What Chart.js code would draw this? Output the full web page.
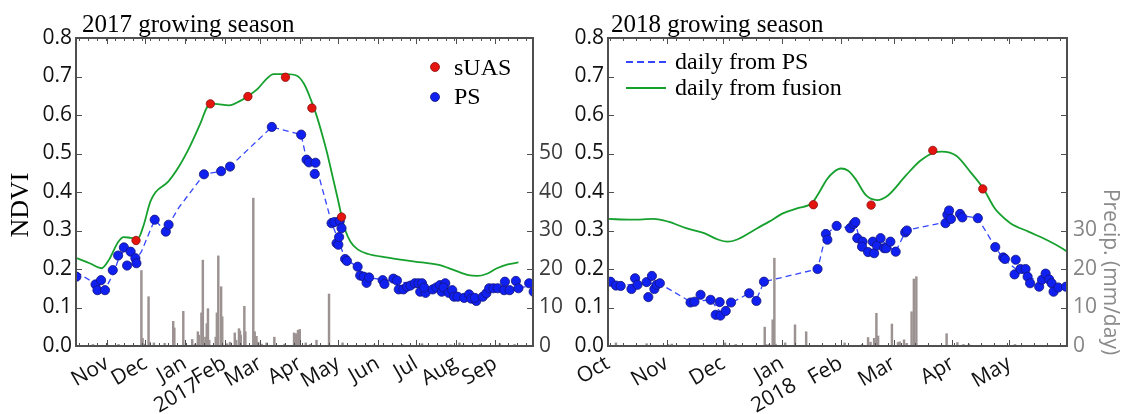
<!DOCTYPE html>
<html>
<head>
<meta charset="utf-8">
<script src="https://cdn.jsdelivr.net/npm/chart.js@4.4.1/dist/chart.umd.min.js"></script>
<style>
html, body { margin: 0; padding: 0; background: #fff; }
#wrap { position: relative; width: 1124px; height: 414px; }
#c2017 { position: absolute; left: 0; top: 0; }
#c2018 { position: absolute; left: 562px; top: 0; }
</style>
</head>
<body>
<div id="wrap">
  <canvas id="c2017" width="562" height="414"></canvas>
  <canvas id="c2018" width="562" height="414"></canvas>
</div>
<script>
// ---- 2016/17 season (x = days since 1 Oct 2016) ----
const fusion2017 = [[6.7,0.229],[17.4,0.215],[26.6,0.202],[32.7,0.225],[39.7,0.27],[43.9,0.283],[49.5,0.281],[55.1,0.279],[59.3,0.31],[64.9,0.375],[69.1,0.40],[78.9,0.427],[87.3,0.466],[95.7,0.517],[104.1,0.578],[109.7,0.622],[115.3,0.629],[126.5,0.625],[134.9,0.636],[141.3,0.649],[148.9,0.668],[155.9,0.694],[161.4,0.706],[171.2,0.706],[179.6,0.702],[185.2,0.681],[190.8,0.638],[195,0.599],[199.2,0.552],[203.4,0.5],[207.6,0.44],[211.8,0.38],[214.6,0.338],[217.4,0.302],[221.6,0.271],[227.2,0.251],[235.6,0.239],[249.6,0.23],[263.6,0.223],[277.6,0.217],[291.6,0.21],[302.7,0.197],[313.9,0.184],[320.9,0.182],[327.9,0.187],[336.3,0.202],[344.7,0.212],[353.1,0.217]];
const psDaily2017 = [[6.7,0.193],[18.8,0.168],[25.7,0.148],[29.9,0.15],[35.5,0.185],[41.1,0.235],[45.3,0.25],[49.5,0.245],[53.7,0.225],[57.9,0.245],[68.3,0.328],[77,0.297],[79.2,0.315],[87.3,0.36],[106.9,0.446],[120.3,0.454],[127.3,0.466],[160,0.569],[183,0.549],[187.2,0.484],[194.2,0.47],[196.4,0.447],[206.8,0.32],[212.7,0.27],[217.4,0.226],[227,0.206],[232,0.18],[247,0.172],[258,0.168],[283,0.153],[302.7,0.14],[320,0.125],[330.7,0.145],[344.7,0.15],[364.5,0.155]];
const ps2017 = [[7,0.18],[22,0.16],[23.5,0.145],[26.3,0.171],[29.4,0.145],[35.5,0.197],[39.7,0.235],[44.2,0.256],[46.7,0.209],[49.5,0.245],[53.2,0.228],[54,0.215],[68.3,0.328],[77,0.297],[79.2,0.315],[106.9,0.446],[120.3,0.454],[127.3,0.466],[160,0.569],[183,0.549],[187.2,0.484],[189.1,0.477],[194.2,0.476],[193.6,0.447],[206.8,0.319],[209,0.322],[213.2,0.325],[210.7,0.267],[212.1,0.263],[212.7,0.283],[214.6,0.306],[217.4,0.226],[218.8,0.221],[227.2,0.206],[229.2,0.183],[232,0.18],[234.2,0.164],[236.2,0.178],[246.8,0.171],[248.2,0.161],[255.2,0.175],[258,0.17],[259.4,0.147],[263,0.147],[265.8,0.154],[268.6,0.157],[272,0.163],[274.8,0.163],[277.6,0.163],[276.2,0.141],[280.4,0.138],[279.2,0.152],[286,0.147],[288.8,0.152],[291.6,0.158],[293,0.141],[295.8,0.163],[294.4,0.152],[298.5,0.138],[301.3,0.145],[302.7,0.128],[305.5,0.128],[310.6,0.125],[314.5,0.134],[316.2,0.123],[320.1,0.117],[319,0.125],[325.2,0.128],[328,0.137],[330.2,0.15],[333.5,0.15],[336.9,0.15],[341.9,0.145],[342.5,0.167],[346.2,0.145],[351.1,0.169],[353.1,0.15],[361.5,0.163],[365,0.141]];
const suas2017 = [[53.7,0.274],[111.9,0.629],[141.3,0.648],[170.7,0.698],[191.4,0.618],[214.6,0.335]];
const precip2017 = [[20,0.4],[40,0.4],[57.9,19.6],[58.8,2],[60.5,0.5],[63.5,12.8],[64.4,1],[67.7,0.8],[76.1,0.7],[82.8,6.4],[83.7,4.7],[90.7,9.0],[97.7,1.7],[100,0.5],[102.1,3.7],[103,2.8],[104.9,8.6],[106,22.3],[108,2.3],[109.1,5.8],[110,9.7],[111,1.5],[116.1,2.3],[117,8.6],[118.1,23.4],[120.3,15.4],[121.2,7.6],[125,0.6],[127.3,1],[131,3.4],[132.1,1.5],[134.3,4.5],[135.1,3.9],[135.7,2.8],[138.5,10.3],[139.3,3.7],[145.5,38.4],[146.6,3.7],[148,2.5],[149.4,1],[152,0.5],[155.9,0.8],[162,2.3],[170,0.5],[177.4,3.4],[178.8,3.2],[180.5,4.1],[181.9,4.3],[186.6,0.8],[190,0.4],[195,1.5],[204.8,13.5],[215.4,0.8],[240,0.3],[262,0.4],[277.6,0.6],[300,0.3],[306.9,0.8],[323,0.4],[338.6,0.6],[350,0.4]];
const tickMonths2017 = ['2016-11','2016-12','2017-01','2017-02','2017-03','2017-04','2017-05','2017-06','2017-07','2017-08','2017-09'];
const tickLabels2017 = ['Nov','Dec',['Jan','2017'],'Feb','Mar','Apr','May','Jun','Jul','Aug','Sep'];
const precipTicks2017 = [0, 10, 20, 30, 40, 50];

// ---- 2017/18 season (x = days since 1 Oct 2017) ----
const fusion2018 = [[0,0.33],[12.7,0.328],[24.2,0.33],[31.8,0.323],[41.3,0.306],[50.8,0.293],[58.4,0.276],[63.2,0.271],[67.9,0.276],[77.5,0.302],[85.1,0.323],[92.7,0.345],[100.3,0.358],[107.9,0.372],[111.7,0.4],[115.5,0.432],[119.3,0.452],[123.1,0.461],[126.9,0.455],[130.7,0.434],[136.4,0.391],[142.2,0.379],[147.9,0.391],[157.4,0.443],[165,0.481],[172.6,0.503],[176.4,0.505],[184,0.494],[191.6,0.451],[198.3,0.409],[204,0.36],[206.9,0.343],[212.6,0.319],[222.1,0.297],[231.6,0.276],[241.1,0.25],[242.5,0.245]];
const psDaily2018 = [[0,0.167],[6.7,0.157],[12.7,0.16],[24.2,0.162],[28,0.16],[43.6,0.115],[54.2,0.12],[59.4,0.088],[65.1,0.112],[74.6,0.137],[78.4,0.12],[82.4,0.167],[110.8,0.2],[115.1,0.29],[120.8,0.312],[127.9,0.306],[130.7,0.32],[133,0.275],[137.4,0.25],[142.2,0.262],[144.4,0.275],[148.2,0.26],[152,0.245],[157.4,0.3],[178.3,0.322],[181.2,0.345],[185.9,0.34],[195.4,0.332],[204.6,0.257],[209.1,0.225],[215.4,0.2],[222.1,0.18],[228.7,0.165],[231.6,0.172],[236.3,0.15],[242.5,0.155]];
const ps2018 = [[1.3,0.167],[4.2,0.157],[6.7,0.156],[12.4,0.148],[14.3,0.176],[15.6,0.159],[20.4,0.166],[21.3,0.127],[23.2,0.182],[24.5,0.148],[25.7,0.159],[27.4,0.163],[43.6,0.113],[45.7,0.115],[48.9,0.133],[54.2,0.12],[56.9,0.081],[59,0.114],[59.4,0.079],[62.2,0.091],[65,0.113],[74.6,0.137],[78.4,0.117],[82.4,0.167],[110.7,0.2],[115.1,0.291],[115.9,0.276],[120.8,0.312],[127.9,0.306],[129.8,0.317],[130.7,0.322],[131.7,0.28],[134.5,0.271],[134.2,0.258],[137.4,0.244],[139.9,0.271],[140.6,0.241],[142.1,0.261],[144,0.28],[145.9,0.254],[147,0.254],[149.2,0.271],[152,0.245],[157,0.295],[157.9,0.3],[178.3,0.319],[179.3,0.341],[180.2,0.352],[181.2,0.33],[186,0.343],[187.2,0.334],[195.4,0.332],[204.6,0.257],[208.8,0.23],[209.7,0.226],[215.4,0.224],[214.8,0.186],[217.9,0.2],[220.6,0.2],[221.7,0.18],[223,0.163],[227.8,0.154],[229.3,0.172],[231.2,0.188],[233.1,0.173],[234.4,0.163],[235.4,0.141],[237.9,0.152],[242,0.154]];
const suas2018 = [[108.5,0.367],[139,0.366],[171.6,0.508],[198,0.408]];
const precip2018 = [[4.2,0.8],[20.4,0.6],[31.8,0.4],[33.7,0.5],[61.8,0.8],[67.5,0.4],[82.8,4.9],[83.5,0.4],[85.1,0.4],[87,6.8],[87.9,22.8],[88.5,0.5],[93.6,0.8],[98.8,5.5],[104.7,3.7],[125,0.8],[134.2,0.4],[137.4,2.2],[138.7,1],[140.6,2],[141.8,8.5],[142.7,2.6],[150,5.7],[153.2,0.9],[154.1,1.1],[156.4,1.6],[157.8,0.7],[160.4,8.9],[161.6,17.4],[162.9,18],[178.9,3.2],[184.6,0.9],[187.8,0.4],[190.7,0.5],[215,0.4]];
const tickMonths2018 = ['2017-10','2017-11','2017-12','2018-01','2018-02','2018-03','2018-04','2018-05'];
const tickLabels2018 = ['Oct','Nov','Dec',['Jan','2018'],'Feb','Mar','Apr','May'];
const precipTicks2018 = [0, 10, 20, 30, 40, 50, 60, 70, 80];

const ndviTicks = [0, 0.1, 0.2, 0.3, 0.4, 0.5, 0.6, 0.7, 0.8];

// ---- helpers ----
const DAY = 864e5;
function dayIndex(iso, seasonStart) {
  const [y, m, d] = iso.split('-').map(Number);
  return (Date.UTC(y, m - 1, d || 1) - Date.UTC(seasonStart, 9, 1)) / DAY;
}
function mondays(seasonStart, from, to) {
  const out = [];
  const base = Date.UTC(seasonStart, 9, 1);
  for (let d = Math.ceil(from); d <= to; d++) {
    if (new Date(base + d * DAY).getUTCDay() === 1) out.push(d);
  }
  return out;
}
const toXY = arr => arr.map(([x, y]) => ({ x, y }));

const SANS = '"Open Sans", "DejaVu Sans", sans-serif';
const SERIF = '"Liberation Serif", "Times New Roman", serif';
const FRAME = '#4f4f4f';
const BLUE = '#1020f0', BLUE_EDGE = '#14147a';
const RED = '#e4140f', RED_EDGE = '#8a1010';
const GREEN = '#16a02e';
const DASH_BLUE = '#3446ff';
const BAR = '#9c9292';

// Frame, inward tick marks, panel title, axis titles and legend.
// The frame and ticks are filled rectangles placed with the chart's own scales.
// Text positions are given in page coordinates; ox shifts them into this canvas.
function panelPlugin(d) {
  return {
    id: 'panel',
    afterDraw(chart) {
      const ctx = chart.ctx, a = chart.chartArea;
      const x = chart.scales.x, y = chart.scales.y, y1 = chart.scales.y1;
      const L = Math.round(a.left), R = Math.round(a.right);
      const T = Math.round(a.top), B = Math.round(a.bottom);

      ctx.save();
      ctx.globalAlpha = 1;
      ctx.globalCompositeOperation = 'source-over';
      ctx.fillStyle = FRAME;
      // tick marks along the top and bottom edges
      d.minor.forEach(v => {
        const px = Math.round(x.getPixelForValue(v));
        ctx.fillRect(px, B - 3, 1, 3);
        ctx.fillRect(px, T, 1, 3);
      });
      d.major.forEach(v => {
        const px = Math.round(x.getPixelForValue(v));
        ctx.fillRect(px, B - 6, 1, 6);
        ctx.fillRect(px, T, 1, 6);
      });
      // tick marks along the side edges
      ndviTicks.forEach(v => {
        const py = Math.round(y.getPixelForValue(v));
        ctx.fillRect(L, py, 6, 1);
      });
      d.precipTicks.forEach(v => {
        const py = Math.round(y1.getPixelForValue(v));
        ctx.fillRect(R - 6, py, 6, 1);
      });
      // frame
      ctx.fillRect(L - 1, T - 1, R - L + 2, 2);
      ctx.fillRect(L - 1, B - 1, R - L + 2, 2);
      ctx.fillRect(L - 1, T - 1, 2, B - T + 2);
      ctx.fillRect(R - 1, T - 1, 2, B - T + 2);
      ctx.restore();

      ctx.save();
      ctx.translate(-d.ox, 0);
      ctx.fillStyle = '#000';
      ctx.font = '25px ' + SERIF;
      ctx.textBaseline = 'alphabetic';
      ctx.textAlign = 'left';
      ctx.fillText(d.title, d.titleX, 32);

      if (d.leftTitle) {
        ctx.save();
        ctx.translate(28, 205);
        ctx.rotate(-Math.PI / 2);
        ctx.textAlign = 'center';
        ctx.font = '26px ' + SERIF;
        ctx.fillText(d.leftTitle, 0, 0);
        ctx.restore();
      }
      if (d.rightTitle) {
        ctx.save();
        ctx.translate(1104, 272);
        ctx.rotate(Math.PI / 2);
        ctx.textAlign = 'center';
        ctx.fillStyle = '#8a8a8a';
        ctx.font = '21px ' + SANS;
        ctx.fillText(d.rightTitle, 0, 0);
        ctx.restore();
      }

      ctx.font = '24px ' + SERIF;
      d.legend.forEach(item => {
        if (item.kind === 'dot') {
          ctx.beginPath();
          ctx.arc(item.mx, item.my, 4.5, 0, Math.PI * 2);
          ctx.fillStyle = item.fill; ctx.fill();
          ctx.lineWidth = 0.8; ctx.strokeStyle = item.edge; ctx.stroke();
        } else {
          ctx.beginPath();
          ctx.setLineDash(item.dash || []);
          ctx.strokeStyle = item.stroke; ctx.lineWidth = item.width;
          ctx.moveTo(item.mx, item.my); ctx.lineTo(item.mx + 40, item.my);
          ctx.stroke();
          ctx.setLineDash([]);
        }
        ctx.fillStyle = '#000';
        ctx.fillText(item.text, item.tx, item.ty);
      });
      ctx.restore();
    }
  };
}

function makeChart(canvasId, cfg) {
  const majors = cfg.tickMonths.map(s => dayIndex(s, cfg.season)).filter(v => v >= cfg.xMin && v <= cfg.xMax);
  const minors = mondays(cfg.season, cfg.xMin, cfg.xMax);
  const plugin = panelPlugin({
    ox: cfg.ox, minor: minors, major: majors, precipTicks: cfg.precipTicks,
    title: cfg.title, titleX: cfg.titleX, leftTitle: cfg.leftTitle, rightTitle: cfg.rightTitle,
    legend: cfg.legend
  });
  return new Chart(document.getElementById(canvasId), {
    type: 'scatter',
    data: {
      datasets: [
        { type: 'bar', data: toXY(cfg.precip), yAxisID: 'y1', backgroundColor: BAR,
          barThickness: 1.8, grouped: false, order: 5 },
        { type: 'line', data: toXY(cfg.fusion), yAxisID: 'y', borderColor: GREEN, borderWidth: 1.8,
          pointRadius: 0, fill: false, cubicInterpolationMode: 'monotone', order: 4 },
        { type: 'line', data: toXY(cfg.psDaily), yAxisID: 'y', borderColor: DASH_BLUE, borderWidth: 1.3,
          borderDash: [6, 4], pointRadius: 0, fill: false, tension: 0, order: 3 },
        { type: 'scatter', data: toXY(cfg.ps), yAxisID: 'y', backgroundColor: BLUE, borderColor: BLUE_EDGE,
          borderWidth: 0.8, pointRadius: 4.6, order: 2 },
        { type: 'scatter', data: toXY(cfg.suas), yAxisID: 'y', backgroundColor: RED, borderColor: RED_EDGE,
          borderWidth: 0.8, pointRadius: 4.2, order: 1 }
      ]
    },
    options: {
      responsive: false,
      animation: false,
      events: [],
      layout: { padding: cfg.padding },
      plugins: { legend: { display: false }, tooltip: { enabled: false } },
      scales: {
        x: {
          type: 'linear', min: cfg.xMin, max: cfg.xMax, offset: false,
          grid: { display: false, drawTicks: false, offset: false },
          border: { display: false },
          afterBuildTicks: s => { s.ticks = majors.map(v => ({ value: v })); },
          afterFit: s => { s.height = 68; },
          ticks: {
            autoSkip: false, minRotation: 30, maxRotation: 30, padding: 5,
            color: '#111', font: { family: SANS, size: 21 },
            callback: (v, i) => cfg.tickLabels[i]
          }
        },
        y: {
          type: 'linear', position: 'left', min: 0, max: 0.8,
          grid: { display: false, drawTicks: false },
          border: { display: false },
          afterBuildTicks: s => { s.ticks = ndviTicks.map(v => ({ value: v })); },
          afterFit: s => { s.width = cfg.yWidth; },
          ticks: { padding: 4, color: '#111', font: { family: SANS, size: 21 }, callback: v => v.toFixed(1) }
        },
        y1: {
          type: 'linear', position: 'right', min: 0, max: 80,
          grid: { display: false, drawTicks: false },
          border: { display: false },
          afterBuildTicks: s => { s.ticks = cfg.precipTicks.map(v => ({ value: v })); },
          afterFit: s => { s.width = cfg.y1Width; },
          ticks: {
            padding: 6, color: cfg.rightColor, font: { family: SANS, size: 21 },
            callback: v => (v <= cfg.rightLabelMax ? String(v) : '')
          }
        }
      }
    },
    plugins: [plugin]
  });
}

makeChart('c2017', {
  season: 2016, xMin: 6.7, xMax: 364.5, ox: 0,
  fusion: fusion2017, psDaily: psDaily2017, ps: ps2017, suas: suas2017, precip: precip2017,
  tickMonths: tickMonths2017, tickLabels: tickLabels2017, precipTicks: precipTicks2017,
  padding: { left: 0, right: 0, top: 38, bottom: 0 }, yWidth: 76, y1Width: 29,
  rightColor: '#3c3c3c', rightLabelMax: 50,
  title: '2017 growing season', titleX: 82,
  leftTitle: 'NDVI', rightTitle: null,
  legend: [
    { kind: 'dot', fill: RED, edge: RED_EDGE, mx: 435, my: 67, text: 'sUAS', tx: 454, ty: 75 },
    { kind: 'dot', fill: BLUE, edge: BLUE_EDGE, mx: 435, my: 97, text: 'PS', tx: 454, ty: 104 }
  ]
});

makeChart('c2018', {
  season: 2017, xMin: 0, xMax: 242.5, ox: 562,
  fusion: fusion2018, psDaily: psDaily2018, ps: ps2018, suas: suas2018, precip: precip2018,
  tickMonths: tickMonths2018, tickLabels: tickLabels2018, precipTicks: precipTicks2018,
  padding: { left: 0, right: 17, top: 38, bottom: 0 }, yWidth: 46, y1Width: 40,
  rightColor: '#858585', rightLabelMax: 30,
  title: '2018 growing season', titleX: 611,
  leftTitle: null, rightTitle: 'Precip. (mm/day)',
  legend: [
    { kind: 'line', stroke: DASH_BLUE, width: 2.2, dash: [7, 4], mx: 626, my: 62, text: 'daily from PS', tx: 675, ty: 69 },
    { kind: 'line', stroke: GREEN, width: 2.2, mx: 626, my: 88, text: 'daily from fusion', tx: 675, ty: 95 }
  ]
});
</script>
</body>
</html>
